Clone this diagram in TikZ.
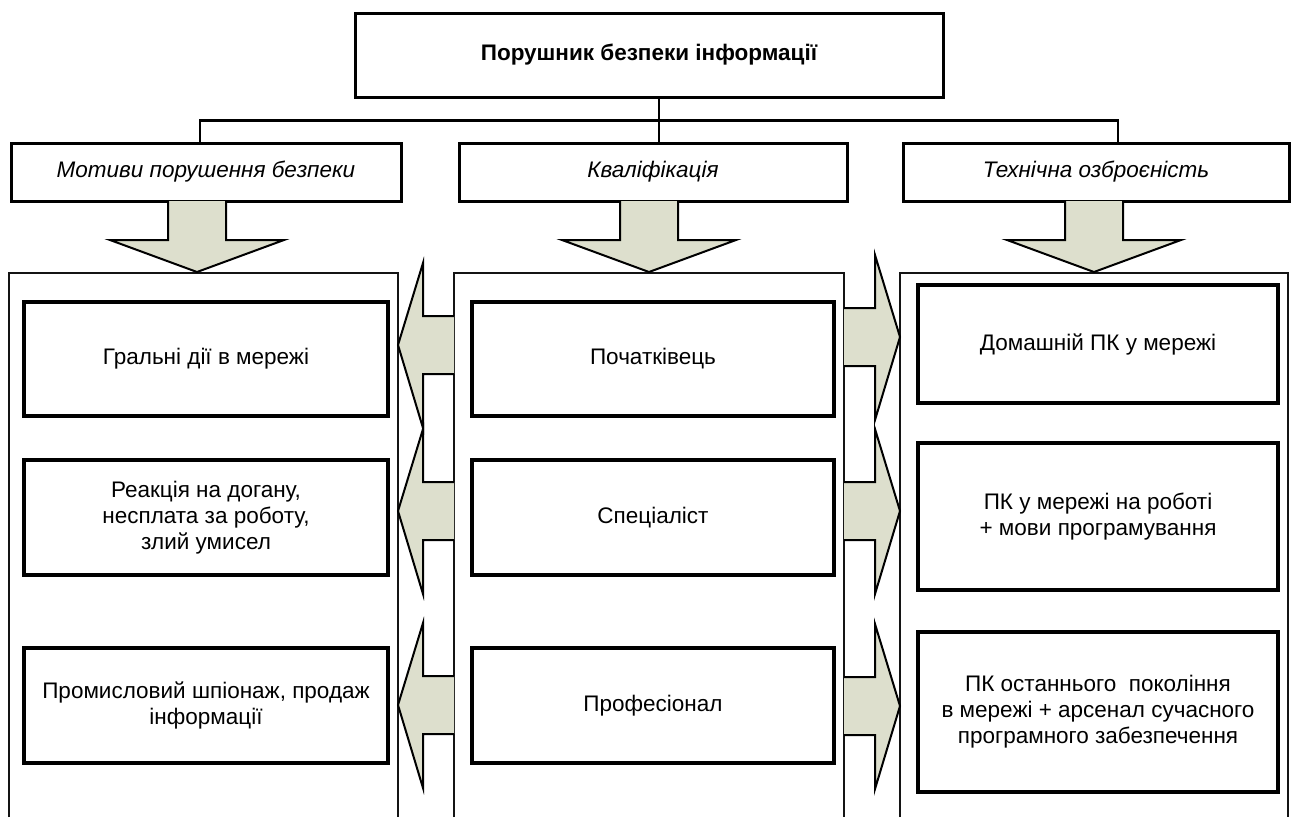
\documentclass[tikz,border=0pt]{standalone}
\usepackage{fontspec}
\setmainfont{Liberation Sans}
\definecolor{arrfill}{RGB}{221,223,205}
\definecolor{lineblk}{RGB}{20,20,20}
\tikzset{
  txt/.style={font=\fontsize{22.5}{26}\selectfont, text=black, align=center},
  topbox/.style={txt, draw=black, line width=3pt, inner sep=0pt},
  catbox/.style={txt, draw=black, line width=3pt, inner sep=0pt, minimum height=58pt, font=\fontsize{22.5}{26}\selectfont\itshape},
  itembox/.style={txt, draw=black, line width=3.2pt, inner sep=0pt},
  contline/.style={draw=lineblk, line width=1.8pt},
  conn/.style={draw=black, line width=2.8pt},
  arrline/.style={draw=black, line width=2pt, line join=miter},
  downarr/.pic={
    \fill[arrfill] (-29,0) -- (-29,39) -- (-87,39) -- (0,71) -- (87,39) -- (29,39) -- (29,0) -- cycle;
    \draw[arrline] (-29,0) -- (-29,39) -- (-87,39) -- (0,71) -- (87,39) -- (29,39) -- (29,0);
  },
  leftarr/.pic={
    \fill[arrfill] (0,0) -- (25,-82) -- (25,-29) -- (56,-29) -- (56,29) -- (25,29) -- (25,83) -- cycle;
    \draw[arrline] (56,-29) -- (25,-29) -- (25,-82) -- (0,0) -- (25,83) -- (25,29) -- (56,29);
  },
  rightarr/.pic={
    \fill[arrfill] (0,0) -- (-25,-82) -- (-25,-29) -- (-56,-29) -- (-56,29) -- (-25,29) -- (-25,83) -- cycle;
    \draw[arrline] (-56,-29) -- (-25,-29) -- (-25,-82) -- (0,0) -- (-25,83) -- (-25,29) -- (-56,29);
  }
}
\begin{document}
\begin{tikzpicture}[x=1pt,y=-1pt]
\useasboundingbox (0,0) rectangle (1292,817);

% top and category boxes
\node[topbox, minimum width=588pt, minimum height=84pt, font=\fontsize{22.5}{26}\selectfont\bfseries] (title) at (649,55) {Порушник безпеки інформації};
\node[catbox, minimum width=390pt] (mot) at (206,172) {Мотиви порушення безпеки};
\node[catbox, minimum width=388pt] (kval) at (653,172) {Кваліфікація};
\node[catbox, minimum width=386pt] (tech) at (1096,172) {Технічна озброєність};

% connectors
\draw[conn] ([xshift=10pt]title.south) -- ([xshift=10pt]title.south |- kval.north);
\draw[conn] ([xshift=-6pt]mot.north) -- ++(0,-21) -| ([xshift=22pt]tech.north);

% containers
\draw[contline] (9,817) -- (9,273) -- (398,273) -- (398,817);
\draw[contline] (454,817) -- (454,273) -- (844,273) -- (844,817);
\draw[contline] (900,817) -- (900,273) -- (1288,273) -- (1288,817);

% down arrows
\pic at (197,201) {downarr};
\pic at (649,201) {downarr};
\pic at (1094,201) {downarr};

% side arrows
\pic at (398,345) {leftarr};
\pic at (398,511) {leftarr};
\pic at (398,705) {leftarr};
\pic at (900,337) {rightarr};
\pic at (900,511) {rightarr};
\pic at (900,706) {rightarr};

% left column
\node[itembox, minimum width=364pt, minimum height=114pt] (l1) at (206,359) {Гральні дії в мережі};
\node[itembox, minimum width=364pt, minimum height=115pt] (l2) at (206,517.5) {Реакція на догану,\\несплата за роботу,\\злий умисел};
\node[itembox, minimum width=364pt, minimum height=115pt] (l3) at (206,705.5) {Промисловий шпіонаж, продаж\\інформації};

% middle column
\node[itembox, minimum width=362pt, minimum height=114pt] (m1) at (653,359) {Початківець};
\node[itembox, minimum width=362pt, minimum height=115pt] (m2) at (653,517.5) {Спеціаліст};
\node[itembox, minimum width=362pt, minimum height=115pt] (m3) at (653,705.5) {Професіонал};

% right column
\node[itembox, minimum width=360pt, minimum height=118pt] (r1) at (1098,344) {Домашній ПК у мережі};
\node[itembox, minimum width=360pt, minimum height=147pt] (r2) at (1098,516.5) {ПК у мережі на роботі\\+ мови програмування};
\node[itembox, minimum width=360pt, minimum height=160pt] (r3) at (1098,712) {ПК останнього~~покоління\\в мережі + арсенал сучасного\\програмного забезпечення};
\end{tikzpicture}
\end{document}
